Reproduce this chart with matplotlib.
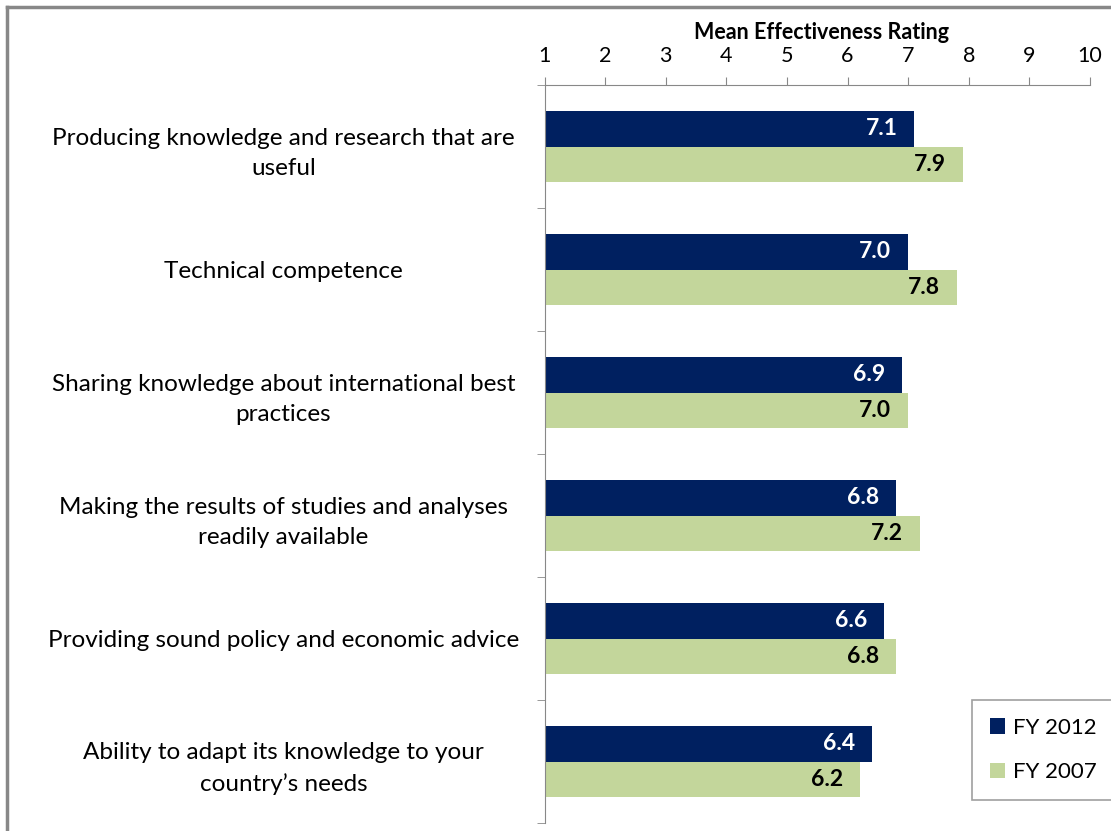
import matplotlib
matplotlib.use("Agg")
import matplotlib.pyplot as plt
from matplotlib.lines import Line2D
from matplotlib.patches import Patch
import numpy as np

categories = [
    "Producing knowledge and research that are\nuseful",
    "Technical competence",
    "Sharing knowledge about international best\npractices",
    "Making the results of studies and analyses\nreadily available",
    "Providing sound policy and economic advice",
    "Ability to adapt its knowledge to your\ncountry\u2019s needs",
]
fy2012 = [7.1, 7.0, 6.9, 6.8, 6.6, 6.4]
fy2007 = [7.9, 7.8, 7.0, 7.2, 6.8, 6.2]
series_names = ["FY 2012", "FY 2007"]
x_ticks = [1, 2, 3, 4, 5, 6, 7, 8, 9, 10]

navy = "#002060"
green = "#C3D69B"
grey = "#888888"

plt.rcParams["font.family"] = ["Lato", "DejaVu Sans"]

W, H = 1111, 831
fig = plt.figure(figsize=(W / 100, H / 100), dpi=100)
ax = fig.add_axes([544.5 / W, 1 - 823 / H, (1090 - 544.5) / W, (823 - 85) / H])

n = len(categories)
pos = np.arange(n)
bh = 0.285
ax.barh(pos - bh / 2, np.array(fy2012) - 1, left=1, height=bh, color=navy)
ax.barh(pos + bh / 2, np.array(fy2007) - 1, left=1, height=bh, color=green)

for i in range(n):
    ax.text(fy2012[i] - 0.28, pos[i] - bh / 2, f"{fy2012[i]:.1f}", ha="right",
            va="center", color="white", fontsize=16.5, fontweight="bold")
    ax.text(fy2007[i] - 0.28, pos[i] + bh / 2, f"{fy2007[i]:.1f}", ha="right",
            va="center", color="black", fontsize=16.5, fontweight="bold")

ax.set_xlim(1, 10)
ax.set_ylim(n - 0.5, -0.5)
ax.xaxis.tick_top()
ax.set_xticks(x_ticks)
ax.tick_params(axis="x", direction="out", length=6, color=grey,
               labelsize=15.5, pad=8)
ax.set_xlabel("Mean Effectiveness Rating", fontsize=15.5, fontweight="bold",
              labelpad=1)
ax.xaxis.set_label_position("top")
ax.xaxis.set_label_coords(0.508, 1.063)

ax.set_yticks(pos)
ax.set_yticklabels(categories, fontsize=17.5, ha="center", linespacing=1.55)
ax.tick_params(axis="y", which="major", length=0, pad=188)
ax.set_yticks(np.arange(n + 1) - 0.5, minor=True)
ax.tick_params(axis="y", which="minor", length=6, color=grey, direction="out")

for s in ["right", "bottom"]:
    ax.spines[s].set_visible(False)
for s in ["top", "left"]:
    ax.spines[s].set_color(grey)

handles = [Patch(facecolor=navy, label=series_names[0]),
           Patch(facecolor=green, label=series_names[1])]
leg = fig.legend(handles=handles, loc="upper left",
                 bbox_to_anchor=(972 / W, 1 - 700 / H), borderaxespad=0,
                 fontsize=16, frameon=True, fancybox=False, edgecolor=grey,
                 handlelength=0.7, handleheight=0.7, handletextpad=0.35,
                 labelspacing=1.1, borderpad=0.8)
leg.get_frame().set_linewidth(1.2)

# outer chart-area frame (top and left edges)
fy = 1 - 7 / H
fx = 7 / W
fig.add_artist(Line2D([fx, 1.0], [fy, fy], transform=fig.transFigure,
                      color=grey, linewidth=2.5))
fig.add_artist(Line2D([fx, fx], [0.0, fy], transform=fig.transFigure,
                      color=grey, linewidth=2.5))

fig.savefig("out.png", dpi=100)
